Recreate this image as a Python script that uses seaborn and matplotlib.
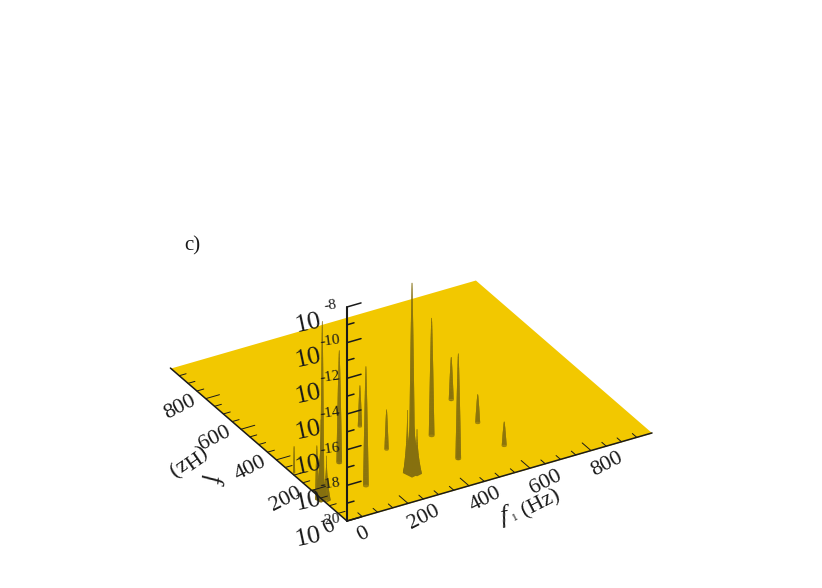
import numpy as np
import seaborn as sns
import matplotlib.pyplot as plt
from mpl_toolkits.mplot3d import proj3d

sns.set_theme(style="white", font="Liberation Serif")

# peaks (f1, f2 in Hz, top as log10 of the amplitude)
peak_f1 = [600, 600, 600, 450, 450, 300, 300, 296, 146, 146, 0, 6, 296, 286, 306, -4, 8, -12]
peak_f2 = [446, 296, 146, 298, 147, 294, 445, 143, 145, 296, 140, 310, 143, 152, 132, 140, 130, 150]
peak_top = [-17.6, -18.4, -18.65, -13.4, -14.1, -17.76, -17.7, -9.34, -13.3, -13.7, -10.0, -18.5,
            -15.0, -16.5, -17.5, -15.5, -17.5, -17.0]
peak_base = [7, 7, 7, 8, 8, 6, 6, 9, 8, 8, 6, 3, 26, 12, 14, 16, 12, 5]

# axis ticks
f_major = [0, 200, 400, 600, 800]
f_minor = [50, 100, 150, 250, 300, 350, 450, 500, 550, 650, 700, 750, 850, 900, 950]
z_major = [-20, -18, -16, -14, -12, -10, -8]
z_minor = [-19, -17, -15, -13, -11, -9]

floor_color = "#f2c800"
peak_color = "#86700f"

fig = plt.figure(figsize=(8.22, 5.88), dpi=100)
ax = fig.add_axes([0.1, 0.0, 588 / 822, 1.0], projection="3d", computed_zorder=False, proj_type="ortho")
ax.view_init(elev=30, azim=-120)
ax.set_xlim(0, 1000)
ax.set_ylim(0, 1000)
ax.set_zlim(-20, -8)
ax.set_box_aspect((352, 353, 247))
ax.set_axis_off()


def to_px(x, y, z):
    ax.apply_aspect()
    xs, ys, _ = proj3d.proj_transform(x, y, z, ax.get_proj())
    return ax.transData.transform((xs, ys))


def label(x, y, z, s, **kw):
    # Text3D ignores rotation, so project the point and place the text on the figure
    px = to_px(x, y, z)
    fig.text(px[0] / 822, px[1] / 588, s, ha="center", va="center", color="k", **kw)


# put the box on the pixels of the reference
side = 588 * 305 / (to_px(1000, 0, -20) - to_px(0, 0, -20))[0]
ax.set_position([0.1, 0.0, side / 822, side / 588])
p0 = to_px(0, 0, -20)
ax.set_position([0.1 + (347 - p0[0]) / 822, (588 - 521 - p0[1]) / 588, side / 822, side / 588])

# floor
gx, gy = np.meshgrid([0, 1000], [0, 1000])
ax.plot_surface(gx, gy, np.full_like(gx, -20.0, dtype=float), color=floor_color, shade=False,
                linewidth=0, antialiased=True, zorder=1)

# peaks, far ones first
order = np.argsort(-(np.array(peak_f1) + np.array(peak_f2)))
h = np.linspace(0, 1, 30)
for i, k in enumerate(order):
    wide = peak_base[k] > 9
    # wide skirts have a pointed foot facing the viewer, the narrow ones a round one
    theta = np.linspace(0, 2 * np.pi, 5 if wide else 18) + (np.pi / 3 if wide else 0)
    r = 0.8 + (peak_base[k] - 0.8) * (1 - h) ** (2.2 if wide else 0.8)
    zz = -20 + (peak_top[k] + 20) * h
    X = peak_f1[k] + np.outer(r, np.cos(theta))
    Y = peak_f2[k] + np.outer(r, np.sin(theta))
    Z = np.outer(zz, np.ones_like(theta))
    ax.plot_surface(X, Y, Z, color=peak_color, shade=False, linewidth=0, antialiased=True,
                    rstride=1, cstride=1, zorder=2 + i * 0.01)

# axis lines and ticks
ax.plot([0, 1000], [0, 0], [-20, -20], color="k", lw=1.1, zorder=5)
ax.plot([0, 0], [0, 1000], [-20, -20], color="k", lw=1.1, zorder=5)
ax.plot([0, 0], [0, 0], [-20, -8], color="k", lw=1.5, zorder=5)
for t, length in [(f_major[1:], 50), (f_minor, 25)]:
    for f in t:
        ax.plot([f, f], [0, length], [-20, -20], color="k", lw=0.7, zorder=5)
        ax.plot([0, length * 0.9], [f, f], [-20, -20], color="k", lw=0.7, zorder=5)
for t, length in [(z_major, 46), (z_minor, 23)]:
    for z in t:
        ax.plot([0, length], [0, 0], [z, z], color="k", lw=1.1, zorder=5)

# tick labels
for f in f_major:
    label(f, -91, -20, str(f), rotation=27, fontsize=16)
    label(-90 if f else -62, f - 7, -20, str(f), rotation=27, fontsize=16)
for z in z_major:
    label(-94, 54, z - 0.9, "10", rotation=12, fontsize=19)
    label(-42, 24, z + 0.06, str(z), rotation=8, fontsize=11)

# titles
fig.text(192 / 822, 1 - 246 / 588, "c)", fontsize=15, ha="center", va="center", color="k")
fig.text(504 / 822, 1 - 516 / 588, "f", fontsize=18, style="italic", rotation=10,
         ha="center", va="center", color="k")
fig.text(515 / 822, 1 - 517 / 588, "1", fontsize=8, rotation=27, ha="center", va="center", color="k")
fig.text(541 / 822, 1 - 504 / 588, "(Hz)", fontsize=16, rotation=27, ha="center", va="center", color="k")
fig.text(212 / 822, 1 - 478 / 588, "f", fontsize=18, style="italic", rotation=265,
         ha="center", va="center", color="k")
fig.text(186 / 822, 1 - 460 / 588, "(Hz)", fontsize=16, rotation=215, ha="center", va="center", color="k")

plt.savefig("out.png", dpi=100)
